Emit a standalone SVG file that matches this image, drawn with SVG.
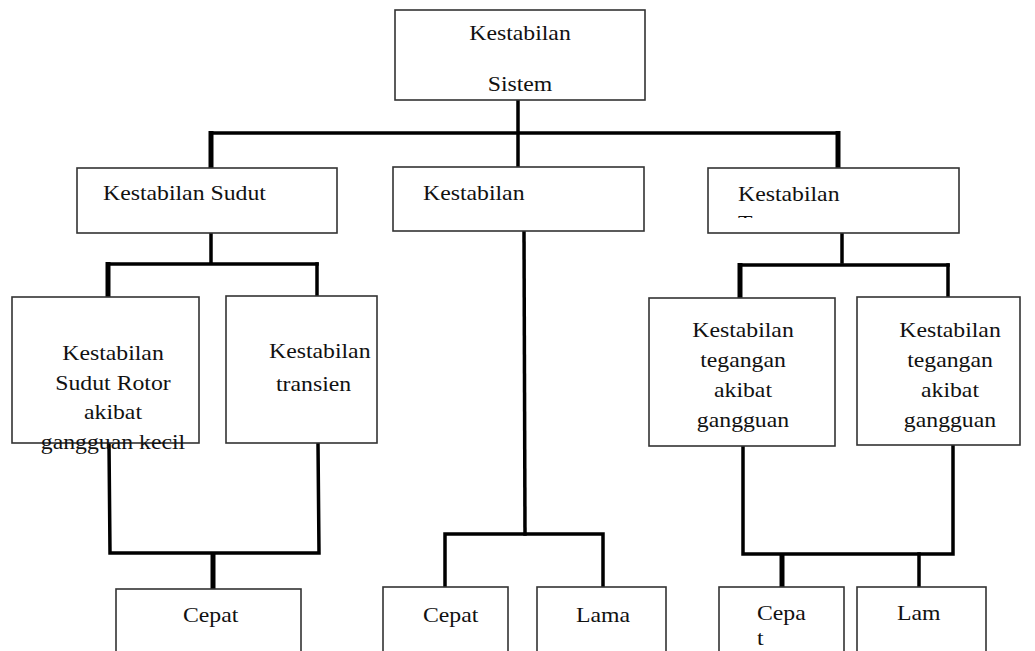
<svg xmlns="http://www.w3.org/2000/svg" width="1035" height="651" viewBox="0 0 1035 651">
<style>
.box{fill:#fff;stroke:#333;stroke-width:1.6}
.t{font-family:"Liberation Serif","Times New Roman",serif;font-size:22px;fill:#111}
.c{text-anchor:middle}
.ln{fill:none;stroke:#000;stroke-width:3.5;stroke-linecap:square}
.lt{fill:none;stroke:#000;stroke-width:5;stroke-linecap:butt}
</style>
<defs>
<clipPath id="clipT"><rect x="-10" y="-20" width="100" height="8"/></clipPath>
</defs>
<rect width="1035" height="651" fill="#fff"/>
<g id="connectors">
<line class="ln" x1="518" y1="100" x2="518" y2="167"/>
<line class="ln" x1="211" y1="133" x2="838" y2="133"/>
<line class="lt" x1="211" y1="131" x2="211" y2="170"/>
<line class="lt" x1="838" y1="131" x2="838" y2="168"/>
<line class="ln" x1="211" y1="233" x2="211" y2="262"/>
<line class="ln" x1="108" y1="264" x2="317" y2="264"/>
<line class="lt" x1="108" y1="262" x2="108" y2="298"/>
<line class="ln" x1="317" y1="264" x2="317" y2="296"/>
<polyline class="ln" points="109,443 110,553 319,553 318,443"/>
<line class="lt" x1="213" y1="553" x2="213" y2="590"/>
<line class="ln" x1="524" y1="231" x2="525" y2="534"/>
<polyline class="ln" points="445,588 445,534 603,534 603,587"/>
<line class="ln" x1="842" y1="233" x2="842" y2="262"/>
<line class="ln" x1="740" y1="265" x2="948" y2="265"/>
<line class="lt" x1="740" y1="263" x2="740" y2="298"/>
<line class="ln" x1="948" y1="265" x2="948" y2="297"/>
<polyline class="ln" points="743,446 743,554 953,554 953,445"/>
<line class="lt" x1="782" y1="554" x2="782" y2="588"/>
<line class="ln" x1="919" y1="554" x2="919" y2="587"/>
</g>
<g id="n-sistem">
<rect class="box" x="395" y="10" width="250" height="90"/>
<text class="t c" transform="translate(520,40) scale(1.08,1)">Kestabilan</text>
<text class="t c" transform="translate(520,91) scale(1.08,1)">Sistem</text>
</g>
<g id="n-sudut">
<rect class="box" x="77" y="168" width="260" height="65"/>
<text class="t" transform="translate(103,200) scale(1.08,1)">Kestabilan Sudut</text>
</g>
<g id="n-frekuensi">
<rect class="box" x="393" y="167" width="251" height="64"/>
<text class="t" transform="translate(423,200) scale(1.08,1)">Kestabilan</text>
</g>
<g id="n-tegangan">
<rect class="box" x="708" y="168" width="251" height="65"/>
<text class="t" transform="translate(738,201) scale(1.08,1)">Kestabilan</text>
<text class="t" transform="translate(738,230) scale(1.08,1)" clip-path="url(#clipT)">T</text>
</g>
<g id="n-rotor">
<rect class="box" x="12" y="297" width="187" height="146"/>
<text class="t c" transform="translate(113,360) scale(1.08,1)">Kestabilan</text>
<text class="t c" transform="translate(113,390) scale(1.08,1)">Sudut Rotor</text>
<text class="t c" transform="translate(113,419) scale(1.08,1)">akibat</text>
<text class="t c" transform="translate(113,449) scale(1.08,1)">gangguan kecil</text>
</g>
<g id="n-transien">
<rect class="box" x="226" y="296" width="151" height="147"/>
<text class="t" transform="translate(269,358) scale(1.08,1)">Kestabilan</text>
<text class="t" transform="translate(276,391) scale(1.08,1)">transien</text>
</g>
<g id="n-teg1">
<rect class="box" x="649" y="298" width="186" height="148"/>
<text class="t c" transform="translate(743,337) scale(1.08,1)">Kestabilan</text>
<text class="t c" transform="translate(743,367) scale(1.08,1)">tegangan</text>
<text class="t c" transform="translate(743,397) scale(1.08,1)">akibat</text>
<text class="t c" transform="translate(743,427) scale(1.08,1)">gangguan</text>
</g>
<g id="n-teg2">
<rect class="box" x="857" y="297" width="163" height="148"/>
<text class="t c" transform="translate(950,337) scale(1.08,1)">Kestabilan</text>
<text class="t c" transform="translate(950,367) scale(1.08,1)">tegangan</text>
<text class="t c" transform="translate(950,397) scale(1.08,1)">akibat</text>
<text class="t c" transform="translate(950,427) scale(1.08,1)">gangguan</text>
</g>
<g id="n-cepat1">
<rect class="box" x="116" y="589" width="185" height="80"/>
<text class="t" transform="translate(183,622) scale(1.08,1)">Cepat</text>
</g>
<g id="n-cepat2">
<rect class="box" x="383" y="587" width="125" height="80"/>
<text class="t" transform="translate(423,622) scale(1.08,1)">Cepat</text>
</g>
<g id="n-lama">
<rect class="box" x="537" y="587" width="129" height="80"/>
<text class="t" transform="translate(576,622) scale(1.08,1)">Lama</text>
</g>
<g id="n-cepat3">
<rect class="box" x="719" y="587" width="125" height="80"/>
<text class="t" transform="translate(757,620) scale(1.08,1)">Cepa</text>
<text class="t" transform="translate(757,645) scale(1.08,1)">t</text>
</g>
<g id="n-lam">
<rect class="box" x="857" y="587" width="129" height="80"/>
<text class="t" transform="translate(897,620) scale(1.08,1)">Lam</text>
</g>
</svg>
